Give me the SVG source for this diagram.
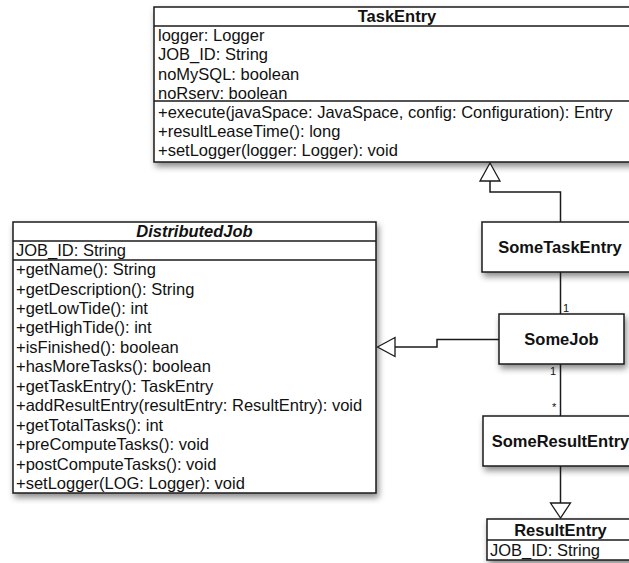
<svg xmlns="http://www.w3.org/2000/svg" width="629" height="563" viewBox="0 0 629 563">
  <defs>
    <filter id="shadow" x="-10%" y="-10%" width="130%" height="140%">
      <feDropShadow dx="2" dy="4" stdDeviation="3" flood-color="#000" flood-opacity="0.45"/>
    </filter>
    <style>
      .box { fill: #fff; stroke: #1a1a1a; stroke-width: 1.5; filter: url(#shadow); }
      .sep { stroke: #1a1a1a; stroke-width: 1.5; }
      .t { font-family: "Liberation Sans", Arial, sans-serif; font-size: 16.5px; fill: #111; }
      .title { font-family: "Liberation Sans", Arial, sans-serif; font-size: 16.5px; font-weight: bold; fill: #111; text-anchor: middle; }
      .it { font-style: italic; }
      .edge { fill: none; stroke: #1a1a1a; stroke-width: 1.5; }
      .head { fill: #fff; stroke: #1a1a1a; stroke-width: 1.3; }
      .mult { font-family: "Liberation Sans", Arial, sans-serif; font-size: 11px; fill: #111; }
    </style>
  </defs>

  <rect width="629" height="563" fill="#fff"/>

  <!-- TaskEntry class -->
  <g id="task-entry">
    <rect class="box" x="154" y="7" width="486" height="155"/>
    <line class="sep" x1="154" y1="26" x2="640" y2="26"/>
    <line class="sep" x1="154" y1="101" x2="640" y2="101"/>
    <text class="title" x="397" y="22">TaskEntry</text>
    <text class="t" x="158" y="41">logger: Logger</text>
    <text class="t" x="158" y="60.3">JOB_ID: String</text>
    <text class="t" x="158" y="79.6">noMySQL: boolean</text>
    <text class="t" x="158" y="98.5">noRserv: boolean</text>
    <text class="t" x="158" y="117.5">+execute(javaSpace: JavaSpace, config: Configuration): Entry</text>
    <text class="t" x="158" y="136.8">+resultLeaseTime(): long</text>
    <text class="t" x="158" y="156">+setLogger(logger: Logger): void</text>
  </g>

  <!-- DistributedJob interface -->
  <g id="distributed-job">
    <rect class="box" x="13" y="222" width="363" height="271"/>
    <line class="sep" x1="13" y1="241" x2="376" y2="241"/>
    <line class="sep" x1="13" y1="260" x2="376" y2="260"/>
    <text class="title it" x="194.5" y="237">DistributedJob</text>
    <text class="t" x="16" y="256">JOB_ID: String</text>
    <text class="t" x="16" y="275">+getName(): String</text>
    <text class="t" x="16" y="294.5">+getDescription(): String</text>
    <text class="t" x="16" y="313.9">+getLowTide(): int</text>
    <text class="t" x="16" y="333.4">+getHighTide(): int</text>
    <text class="t" x="16" y="352.8">+isFinished(): boolean</text>
    <text class="t" x="16" y="372.3">+hasMoreTasks(): boolean</text>
    <text class="t" x="16" y="391.7">+getTaskEntry(): TaskEntry</text>
    <text class="t" x="16" y="411.2">+addResultEntry(resultEntry: ResultEntry): void</text>
    <text class="t" x="16" y="430.6">+getTotalTasks(): int</text>
    <text class="t" x="16" y="450.1">+preComputeTasks(): void</text>
    <text class="t" x="16" y="469.5">+postComputeTasks(): void</text>
    <text class="t" x="16" y="489">+setLogger(LOG: Logger): void</text>
  </g>

  <!-- SomeTaskEntry class -->
  <g id="some-task-entry">
    <rect class="box" x="482" y="222" width="156" height="50"/>
    <text class="title" x="560" y="253">SomeTaskEntry</text>
  </g>

  <!-- SomeJob class -->
  <g id="some-job">
    <rect class="box" x="499" y="314" width="125" height="50"/>
    <text class="title" x="561.5" y="345">SomeJob</text>
  </g>

  <!-- SomeResultEntry class -->
  <g id="some-result-entry">
    <rect class="box" x="483" y="416" width="155" height="50"/>
    <text class="title" x="560.5" y="447">SomeResultEntry</text>
  </g>

  <!-- ResultEntry class -->
  <g id="result-entry">
    <rect class="box" x="487" y="519" width="147" height="41"/>
    <line class="sep" x1="487" y1="540" x2="634" y2="540"/>
    <text class="title" x="560.5" y="535.5">ResultEntry</text>
    <text class="t" x="490" y="555.5">JOB_ID: String</text>
  </g>

  <!-- Connectors -->
  <g id="connectors">
    <!-- SomeTaskEntry generalizes TaskEntry -->
    <path class="edge" d="M560.5,222 V192 H490 V181"/>
    <polygon class="head" points="490,163 480,181 500,181"/>
    <!-- SomeJob realizes DistributedJob -->
    <path class="edge" d="M499,339.5 H437 V347 H395"/>
    <polygon class="head" points="377.5,347 395,337.5 395,356.5"/>
    <!-- SomeTaskEntry to SomeJob -->
    <path class="edge" d="M560.5,272 V314"/>
    <text class="mult" x="563" y="312">1</text>
    <!-- SomeJob to SomeResultEntry -->
    <path class="edge" d="M560.5,364 V416"/>
    <text class="mult" x="550" y="375">1</text>
    <text class="mult" x="552" y="411">*</text>
    <!-- SomeResultEntry generalizes ResultEntry -->
    <path class="edge" d="M560.5,466 V503"/>
    <polygon class="head" points="560.5,518 550.5,503 570.5,503"/>
  </g>
</svg>
